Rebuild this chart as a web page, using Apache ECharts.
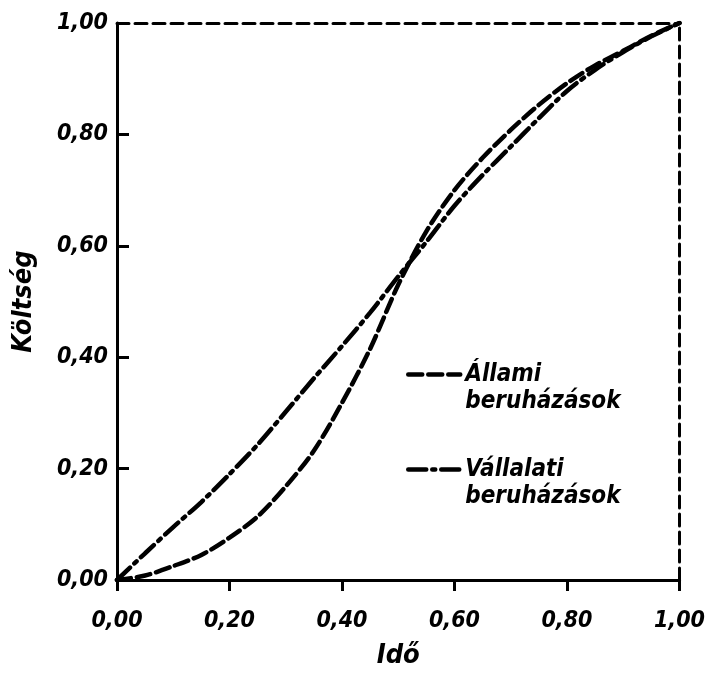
<!DOCTYPE html>
<html>
<head>
<meta charset="utf-8">
<script src="https://cdn.jsdelivr.net/npm/echarts@6/dist/echarts.min.js"></script>
<style>
  html, body { margin: 0; padding: 0; background: #fff; }
  #chart { width: 708px; height: 674px; }
</style>
</head>
<body>
<div id="chart"></div>
<script>
// time share (x) and cost share (y)
const ido = [0, 0.05, 0.1, 0.15, 0.2, 0.25, 0.3, 0.35, 0.4, 0.45, 0.5,
             0.55, 0.6, 0.65, 0.7, 0.75, 0.8, 0.85, 0.9, 0.95, 1.0]
const allami = [0, 0.008, 0.025, 0.045, 0.076, 0.114, 0.168, 0.232, 0.318, 0.415, 0.53,
                0.626, 0.7, 0.758, 0.808, 0.853, 0.892, 0.924, 0.95, 0.977, 1.0]
const vallalati = [0, 0.048, 0.095, 0.14, 0.19, 0.243, 0.302, 0.362, 0.42, 0.48, 0.545,
                   0.607, 0.672, 0.727, 0.778, 0.829, 0.878, 0.916, 0.948, 0.976, 1.0]
const seriesNames = ['Állami beruházások', 'Vállalati beruházások']
const axisNames = {x: 'Idő', y: 'Költség'}

const font = "'DejaVu Sans Condensed', 'DejaVu Sans', sans-serif"
const fmt = v => v.toFixed(2).replace('.', ',')
const pairs = ys => ido.map((x, i) => [x, ys[i]])

const dashA = [14, 6]
const dashB = [18, 6, 3, 6]

const chart = echarts.init(document.getElementById('chart'))

const solidAxis = {width: 3, color: '#000'}
const dashedAxis = {width: 3, color: '#000', type: [12, 6]}
const boldItalic = {fontFamily: font, fontStyle: 'italic', fontWeight: 'bold', color: '#000'}

chart.setOption({
    animation: false,
    backgroundColor: '#fff',
    grid: {left: 117, right: 20, top: 23, bottom: 89},
    legend: {
        orient: 'vertical',
        left: 401,
        top: 329,
        itemWidth: 52,
        itemHeight: 14,
        itemGap: 14,
        selectedMode: false,
        itemStyle: {opacity: 0},
        formatter: name => '\n' + name.replace(' ', '\n'),
        textStyle: {...boldItalic, fontSize: 24, lineHeight: 27},
        data: [
            {name: seriesNames[0], lineStyle: {width: 4.5, type: dashA, color: '#000'}},
            {name: seriesNames[1], lineStyle: {width: 4.5, type: dashB, color: '#000'}}
        ]
    },
    xAxis: [{
        type: 'value', min: 0, max: 1, interval: 0.2,
        name: axisNames.x, nameLocation: 'middle', nameGap: 62,
        nameTextStyle: {...boldItalic, fontSize: 27},
        axisLine: {show: true, lineStyle: solidAxis},
        axisTick: {length: 11, lineStyle: solidAxis},
        axisLabel: {margin: 30, formatter: fmt, ...boldItalic, fontSize: 23},
        splitLine: {show: false}
    }, {
        type: 'value', min: 0, max: 1, position: 'top',
        axisLine: {show: true, onZero: false, lineStyle: dashedAxis},
        axisTick: {show: false}, axisLabel: {show: false}, splitLine: {show: false}
    }],
    yAxis: [{
        type: 'value', min: 0, max: 1, interval: 0.2,
        name: axisNames.y, nameLocation: 'middle', nameGap: 80, nameRotate: 90,
        nameTextStyle: {...boldItalic, fontSize: 27},
        axisLine: {show: true, lineStyle: solidAxis},
        axisTick: {inside: true, length: 12, lineStyle: solidAxis},
        axisLabel: {margin: 9, formatter: fmt, ...boldItalic, fontSize: 23},
        splitLine: {show: false}
    }, {
        type: 'value', min: 0, max: 1, position: 'right',
        axisLine: {show: true, onZero: false, lineStyle: dashedAxis},
        axisTick: {show: false}, axisLabel: {show: false}, splitLine: {show: false}
    }],
    series: [{
        name: seriesNames[0],
        type: 'line',
        smooth: 0.3,
        symbol: 'none',
        data: pairs(allami),
        itemStyle: {color: '#000'},
        lineStyle: {color: '#000', width: 4.5, type: dashA, cap: 'round'},
        z: 3
    }, {
        name: seriesNames[1],
        type: 'line',
        smooth: 0.3,
        symbol: 'none',
        data: pairs(vallalati),
        itemStyle: {color: '#000'},
        lineStyle: {color: '#000', width: 4.5, type: dashB, cap: 'round'},
        z: 3
    }]
})
</script>
</body>
</html>
